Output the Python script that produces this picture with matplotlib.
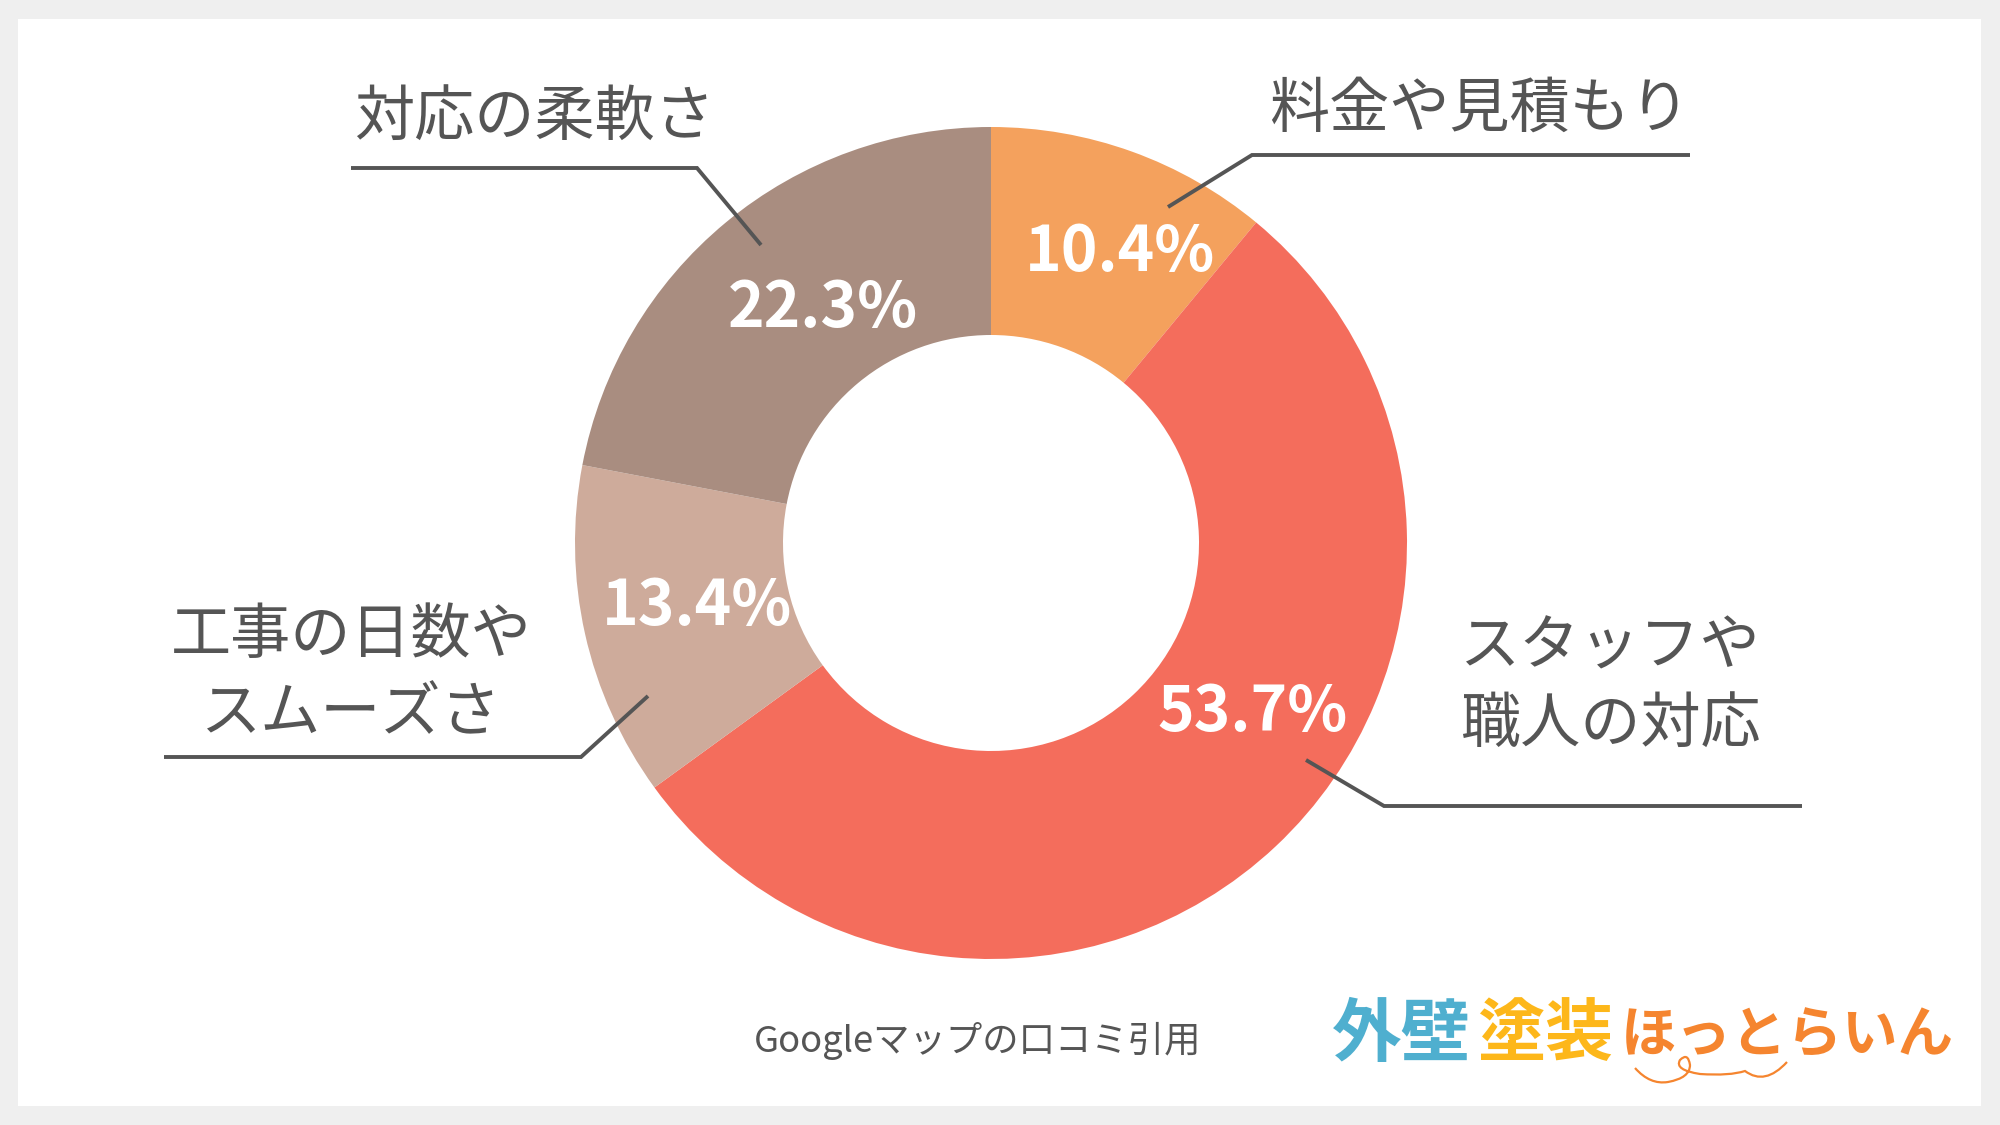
import matplotlib
matplotlib.use("Agg")
import matplotlib.pyplot as plt
from matplotlib.patches import Rectangle
from matplotlib.path import Path
from matplotlib.patches import PathPatch

plt.rcParams['font.family'] = ['Noto Sans CJK JP', 'DejaVu Sans']

categories = ["料金や見積もり", "スタッフや\n職人の対応", "工事の日数や\nスムーズさ", "対応の柔軟さ"]
printed_pct = ["10.4%", "53.7%", "13.4%", "22.3%"]
shares = [11.0, 54.0, 13.0, 22.0]
colors = ["#F4A15D", "#F46D5C", "#CEAB9B", "#A98D80"]

W, H = 2000, 1125
INK = "#555555"

fig = plt.figure(figsize=(20, 11.25), dpi=100, facecolor="#EFEFEF")

ax = fig.add_axes([0, 0, 1, 1])
ax.set_axis_off()
ax.add_patch(Rectangle((18, 19), 1963, 1087, facecolor="white", edgecolor="none", zorder=0))
ax.pie(shares, colors=colors, startangle=90, counterclock=False,
       center=(991, H - 543), radius=416,
       wedgeprops=dict(width=208, linewidth=0), frame=False)
ax.set_xlim(0, W)
ax.set_ylim(0, H)
ax.set_aspect("auto")
ax.set_axis_off()

ov = fig.add_axes([0, 0, 1, 1], facecolor="none")
ov.set_xlim(0, W)
ov.set_ylim(H, 0)
ov.set_axis_off()

# leader lines
leaders = [
    ([1168, 1252, 1690], [207, 155, 155]),
    ([761, 697, 351], [245, 168, 168]),
    ([648, 581, 164], [696, 757, 757]),
    ([1306, 1384, 1802], [760, 806, 806]),
]
for xs, ys in leaders:
    ov.plot(xs, ys, color=INK, lw=2.8, solid_joinstyle="miter", solid_capstyle="butt")

# category labels
label_pos = [(1480, 109), (1610, 686), (351, 675), (534, 118)]
for (x, y), txt in zip(label_pos, categories):
    ov.text(x, y, txt, ha="center", va="center", fontsize=43.3, color=INK, linespacing=1.32)

# percent labels
pct_pos = [(1120, 252), (1253, 713), (697, 606), (823, 308)]
for (x, y), txt in zip(pct_pos, printed_pct):
    ov.text(x, y, txt, ha="center", va="center", fontsize=44.8, color="white", fontweight="bold")

ov.text(978, 1041, "Googleマップの口コミ引用", ha="center", va="center", fontsize=26.2, color=INK)

# logo text
logo = [("外壁", "#4FAFCF", 1401, 50), ("塗装", "#FDB71A", 1545, 49), ("ほっとらいん", "#F5852F", 1787, 40)]
for txt, c, x, fs in logo:
    ov.text(x, 1036, txt, ha="center", va="center", fontsize=fs, color=c, fontweight="bold")
cord = Path([(1635, 1068), (1650, 1085), (1668, 1082), (1690, 1078), (1690, 1065),
             (1688, 1052), (1680, 1060), (1674, 1070), (1700, 1074), (1730, 1076),
             (1745, 1071), (1765, 1086), (1787, 1062)],
            [Path.MOVETO] + [Path.CURVE3] * 12)
ov.add_patch(PathPatch(cord, facecolor="none", edgecolor="#F5852F", lw=1.6))

fig.savefig("out.png", dpi=100, facecolor=fig.get_facecolor())
